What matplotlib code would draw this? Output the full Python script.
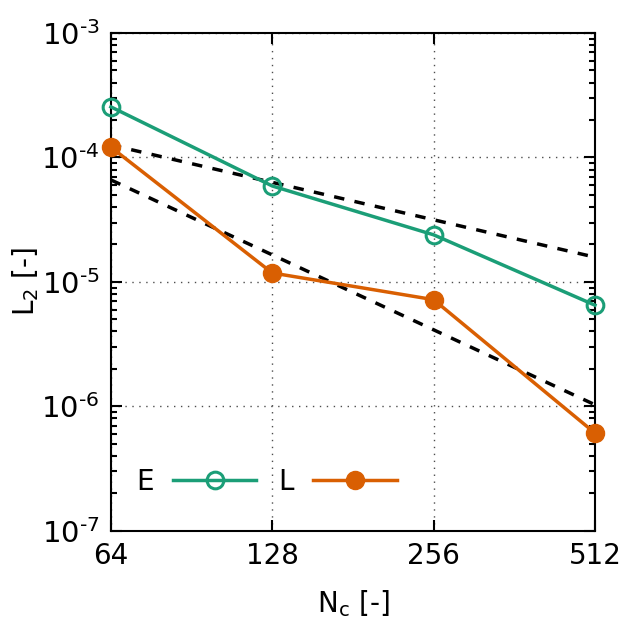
import numpy as np
import matplotlib
matplotlib.use("Agg")
import matplotlib.pyplot as plt
from matplotlib.ticker import FixedLocator, FixedFormatter, LogLocator, NullLocator, FuncFormatter

# data
n_cells = [64, 128, 256, 512]
err_E = [2.55e-4, 5.9e-5, 2.39e-5, 6.5e-6]
err_L = [1.21e-4, 1.18e-5, 7.2e-6, 6.1e-7]

# reference slopes (1st and 2nd order)
ref_x = [64, 512]
ref_1 = [1.26e-4, 1.58e-5]
ref_2 = [6.6e-5, 1.03e-6]

green = "#1b9e77"
orange = "#d95f02"

plt.rcParams["font.size"] = 20
plt.rcParams["mathtext.default"] = "regular"

fig = plt.figure(figsize=(6.23, 6.23), dpi=100)
ax = fig.add_axes([0.178, 0.148, 0.777, 0.799])

ax.plot(ref_x, ref_1, color="k", linestyle=(0, (3, 3)), linewidth=2.5)
ax.plot(ref_x, ref_2, color="k", linestyle=(0, (3, 3)), linewidth=2.5)

ax.plot(n_cells, err_E, color=green, linewidth=2.5, marker="o",
        markersize=12, markerfacecolor="none", markeredgewidth=2.2,
        label="E", clip_on=False, zorder=5)
ax.plot(n_cells, err_L, color=orange, linewidth=2.5, marker="o",
        markersize=13, label="L", clip_on=False, zorder=5)

ax.set_xscale("log", base=2)
ax.set_yscale("log")
ax.set_xlim(64, 512)
ax.set_ylim(1e-7, 1e-3)

ax.xaxis.set_major_locator(FixedLocator(n_cells))
ax.xaxis.set_major_formatter(FixedFormatter([str(n) for n in n_cells]))
ax.xaxis.set_minor_locator(NullLocator())
ax.yaxis.set_major_locator(LogLocator(base=10, numticks=10))
ax.yaxis.set_minor_locator(LogLocator(base=10, subs=np.arange(2, 10), numticks=10))


def pow10(v, pos):
    e = int(round(np.log10(v)))
    return r"$10^{\text{%d}}$" % e


ax.yaxis.set_major_formatter(FuncFormatter(pow10))

ax.tick_params(which="both", direction="in", top=True, right=True, width=1.5)
ax.tick_params(which="major", length=8, pad=8)
ax.tick_params(which="minor", length=4)
ax.tick_params(axis="y", which="major", labelsize=21)
for s in ax.spines.values():
    s.set_linewidth(1.5)

ax.grid(True, which="major", color="0.3", linestyle=(0, (1, 4)), linewidth=1)

ax.set_xlabel("N$_\\mathrm{c}$ [-]")
ax.set_ylabel("L$_2$ [-]")
ax.xaxis.set_label_coords(0.5, -0.115)
ax.yaxis.set_label_coords(-0.145, 0.5)

ax.legend(loc="lower left", ncol=2, markerfirst=False, frameon=False,
          handlelength=3.0, handletextpad=0.7, columnspacing=0.8,
          bbox_to_anchor=(0.0, 0.02))

fig.savefig("out.png", dpi=100)
